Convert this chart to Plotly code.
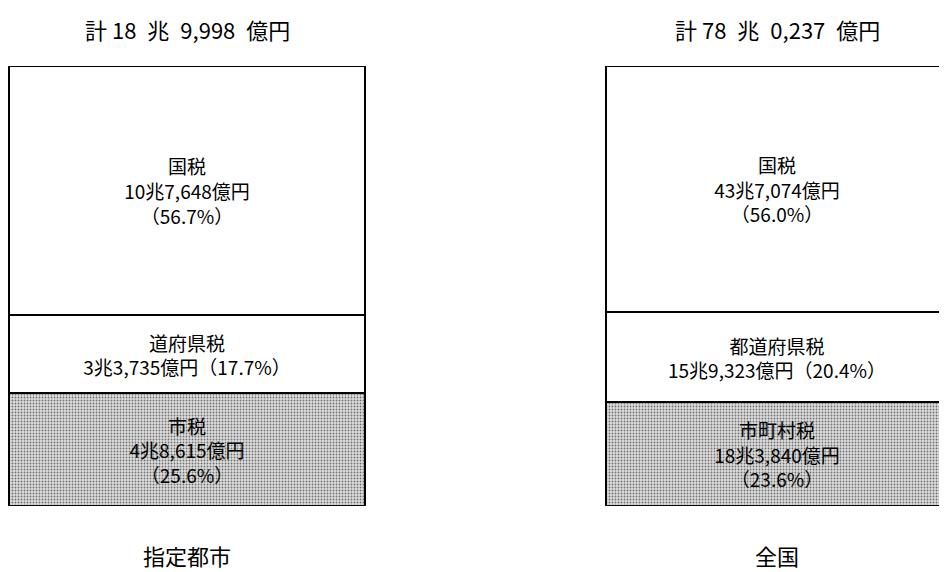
import plotly.graph_objects as go


# ==========================================
# DATA (億円)
# ==========================================

regions = ["指定都市", "全国"]

kokuzei = [107648, 437074]
todofuken_zei = [33735, 159323]
shichoson_zei = [48615, 183840]

kokuzei_pct = [56.7, 56.0]
todofuken_pct = [17.7, 20.4]
shichoson_pct = [25.6, 23.6]

todofuken_names = ["道府県税", "都道府県税"]
shichoson_names = ["市税", "市町村税"]


# ==========================================
# HELPERS
# ==========================================

def fmt_oku(value, sep=""):
    cho = value // 10000
    oku = value % 10000
    return f"{cho}{sep}兆{sep}{oku // 1000},{oku % 1000:03d}{sep}億円"


FONT = "Noto Sans CJK JP, Noto Sans CJK SC, sans-serif"

totals = [a + b + c for a, b, c in zip(kokuzei, todofuken_zei, shichoson_zei)]

kokuzei_text = [
    f"国税<br>{fmt_oku(v)}<br>（{p:.1f}%）"
    for v, p in zip(kokuzei, kokuzei_pct)
]
todofuken_text = [
    f"{n}<br>{fmt_oku(v)}（{p:.1f}%）"
    for n, v, p in zip(todofuken_names, todofuken_zei, todofuken_pct)
]
shichoson_text = [
    f"{n}<br>{fmt_oku(v)}<br>（{p:.1f}%）"
    for n, v, p in zip(shichoson_names, shichoson_zei, shichoson_pct)
]

xs = list(range(len(regions)))
widths = [0.603, 0.58]


# ==========================================
# FIGURE
# ==========================================

fig = go.Figure()

common = dict(
    x=xs,
    width=widths,
    textposition="inside",
    insidetextanchor="middle",
    textangle=0,
    textfont=dict(family=FONT, size=19, color="black"),
    hoverinfo="skip",
)

fig.add_trace(
    go.Bar(
        y=shichoson_zei,
        text=shichoson_text,
        marker=dict(
            color="#c8c8c8",
            line=dict(color="black", width=2),
            pattern=dict(
                shape=".",
                fillmode="replace",
                fgcolor="#707070",
                bgcolor="#dedede",
                size=3,
                solidity=0.3,
            ),
        ),
        **common
    )
)

fig.add_trace(
    go.Bar(
        y=todofuken_zei,
        text=todofuken_text,
        marker=dict(color="white", line=dict(color="black", width=2)),
        **common
    )
)

fig.add_trace(
    go.Bar(
        y=kokuzei,
        text=kokuzei_text,
        marker=dict(color="white", line=dict(color="black", width=2)),
        **common
    )
)

# totals above, region names below
for x, total, name in zip(xs, totals, regions):

    fig.add_annotation(
        x=x, y=1, xref="x", yref="paper",
        yanchor="middle", yshift=37, showarrow=False,
        text=f"計 {fmt_oku(total, chr(0x2002))}",
        font=dict(family=FONT, size=22, color="black"),
    )

    fig.add_annotation(
        x=x, y=0, xref="x", yref="paper",
        yanchor="middle", yshift=-49, showarrow=False,
        text=name,
        font=dict(family=FONT, size=22, color="black"),
    )

# the page adds an 8px body margin, so the plot area is set 8px up/left
fig.update_layout(
    width=947,
    height=572,
    barmode="stack",
    barnorm="percent",
    showlegend=False,
    plot_bgcolor="white",
    paper_bgcolor="white",
    margin=dict(l=0, r=0, t=58, b=74),
    uniformtext=dict(minsize=19, mode="show"),
    xaxis=dict(
        range=[-179 / 590, 768 / 590],
        visible=False,
    ),
    yaxis=dict(
        range=[0, 100],
        visible=False,
    ),
)

fig.write_html("out.html")
